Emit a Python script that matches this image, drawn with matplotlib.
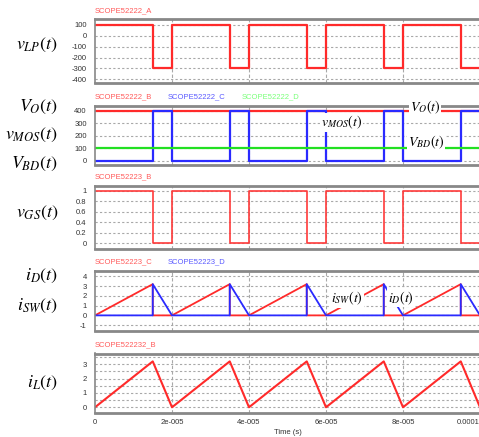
"""
Boost converter waveforms (PSIM-style scope panels).
"""

import matplotlib
matplotlib.use("Agg")
import matplotlib.pyplot as plt

plt.rcParams["font.family"] = ["Liberation Sans", "DejaVu Sans"]
plt.rcParams["mathtext.fontset"] = "stix"

RED = "#ff2a2a"
BLUE = "#2a2aff"
GREEN = "#22e022"

# switching instants (s), step values hold from each instant to the next
edges = [0, 1.5e-5, 2e-5, 3.5e-5, 4e-5, 5.5e-5, 6e-5, 7.5e-5, 8e-5, 9.5e-5, 1e-4]
v_lp = [100, -300, 100, -300, 100, -300, 100, -300, 100, -300, -300]
v_mos = [0, 400, 0, 400, 0, 400, 0, 400, 0, 400, 400]
v_gs = [1, 0, 1, 0, 1, 0, 1, 0, 1, 0, 0]
t_dc = [0, 1e-4]
v_o = [400, 400]
v_bd = [100, 100]

# current breakpoints
t_sw = [0, 1.5e-5, 1.5e-5, 2e-5, 3.5e-5, 3.5e-5, 4e-5, 5.5e-5, 5.5e-5, 6e-5,
        7.5e-5, 7.5e-5, 8e-5, 9.5e-5, 9.5e-5, 1e-4]
i_sw = [0, 3.2, 0, 0, 3.2, 0, 0, 3.2, 0, 0, 3.2, 0, 0, 3.2, 0, 0]
i_d = [0, 0, 3.2, 0, 0, 3.2, 0, 0, 3.2, 0, 0, 3.2, 0, 0, 3.2, 0]
t_l = [0, 1.5e-5, 2e-5, 3.5e-5, 4e-5, 5.5e-5, 6e-5, 7.5e-5, 8e-5, 9.5e-5, 1e-4]
i_l = [0, 3.2, 0, 3.2, 0, 3.2, 0, 3.2, 0, 3.2, 0]

x_ticks = [0, 2e-5, 4e-5, 6e-5, 8e-5, 1e-4]
x_labels = ["0", "2e-005", "4e-005", "6e-005", "8e-005", "0.0001"]

W, H = 479, 437
fig = plt.figure(figsize=(W / 100, H / 100), dpi=100)


def make_ax(top, bottom, ylim, yticks, ylabels, grid_y=None):
    ax = fig.add_axes([95 / W, 1 - bottom / H, 385 / W, (bottom - top) / H])
    ax.set_xlim(0, 1e-4)
    ax.set_ylim(*ylim)
    ax.set_yticks(yticks)
    ax.set_yticklabels(ylabels, fontsize=5.5, color="#333333")
    ax.tick_params(length=0, pad=6)
    ax.set_xticks(x_ticks)
    ax.set_xticklabels([])
    for y in (grid_y if grid_y is not None else yticks):
        ax.axhline(y, color="#a8a8a8", lw=0.8, ls=(0, (2, 2)), zorder=0)
    for x in x_ticks[1:-1]:
        ax.axvline(x, color="#a8a8a8", lw=0.8, ls=(0, (3, 2)), zorder=0)
    for s in ax.spines.values():
        s.set_color("#888888")
        s.set_linewidth(1.2)
    ax.spines["top"].set_linewidth(2)
    ax.spines["bottom"].set_linewidth(2)
    return ax


def title(ax, x, text, color):
    fig.text(x / W, 1 - (ax_top[ax] - 5) / H, text, fontsize=5.5, color=color,
             ha="left", va="bottom")


def side(y, text):
    fig.text(58 / W, 1 - y / H, text, fontsize=13, ha="right", va="center")


def note(ax, x, y, text, size=10):
    ax.text(x, y, text, fontsize=size, ha="center", va="center", zorder=5,
            clip_on=False, bbox=dict(facecolor="white", edgecolor="none", pad=0.5))


ax_top = {}

# panel 1: inductor voltage
ax1 = make_ax(19, 83, (-435, 155), [100, 0, -100, -200, -300, -400],
              ["100", "0", "-100", "-200", "-300", "-400"])
ax_top[ax1] = 19
ax1.step(edges, v_lp, where="post", color=RED, lw=1.6)
title(ax1, 95, "SCOPE52222_A", "#ff5a5a")
side(45, r"$v_{LP}(t)$")

# panel 2: output, switch and diode voltages
ax2 = make_ax(105.5, 165, (-35, 443), [0, 100, 200, 300, 400],
              ["0", "100", "200", "300", "400"])
ax_top[ax2] = 105.5
ax2.plot(t_dc, v_o, color=RED, lw=1.6)
ax2.step(edges, v_mos, where="post", color=BLUE, lw=1.6)
ax2.plot(t_dc, v_bd, color=GREEN, lw=1.6)
title(ax2, 95, "SCOPE52222_B", "#ff5a5a")
title(ax2, 168, "SCOPE52222_C", "#5a5aff")
title(ax2, 242, "SCOPE52222_D", "#7aff7a")
note(ax2, 8.58e-5, 430, r"$V_O(t)$")
note(ax2, 6.4e-5, 305, r"$v_{MOS}(t)$")
note(ax2, 8.6e-5, 148, r"$V_{BD}(t)$")
side(107, r"$V_O(t)$")
side(135, r"$v_{MOS}(t)$")
side(164, r"$V_{BD}(t)$")

# panel 3: gate signal
ax3 = make_ax(185.5, 249, (-0.108, 1.095), [0, 0.2, 0.4, 0.6, 0.8, 1],
              ["0", "0.2", "0.4", "0.6", "0.8", "1"])
ax_top[ax3] = 185.5
ax3.step(edges, v_gs, where="post", color="#ff3a3a", lw=1.2)
title(ax3, 95, "SCOPE52223_B", "#ff5a5a")
side(213, r"$v_{GS}(t)$")

# panel 4: switch and diode currents
ax4 = make_ax(270.5, 330.5, (-1.55, 4.6), [-1, 0, 1, 2, 3, 4],
              ["-1", "0", "1", "2", "3", "4"])
ax_top[ax4] = 270.5
ax4.plot(t_sw, i_sw, color=RED, lw=1.3)
ax4.plot(t_sw, i_d, color=BLUE, lw=1.3)
title(ax4, 95, "SCOPE52223_C", "#ff5a5a")
title(ax4, 168, "SCOPE52223_D", "#5a5aff")
note(ax4, 6.55e-5, 1.7, r"$i_{SW}(t)$")
note(ax4, 7.95e-5, 1.8, r"$i_D(t)$")
side(276, r"$i_D(t)$")
side(306, r"$i_{SW}(t)$")

# panel 5: inductor current
ax5 = make_ax(353.5, 413.3, (-0.42, 3.75), [0, 1, 2, 3], ["0", "1", "2", "3"],
              grid_y=[0, 0.5, 1, 1.5, 2, 2.5, 3, 3.5])
ax_top[ax5] = 353.5
ax5.plot(t_l, i_l, color=RED, lw=1.5)
ax5.set_xticklabels(x_labels, fontsize=5.5, color="#333333")
ax5.tick_params(axis="x", pad=4)
ax5.get_xticklabels()[-1].set_ha("right")
ax5.set_xlabel("Time (s)", fontsize=5.5, color="#333333", labelpad=2)
title(ax5, 95, "SCOPE522232_B", "#ff5a5a")
side(383, r"$i_L(t)$")

fig.savefig("out.png", dpi=100)
